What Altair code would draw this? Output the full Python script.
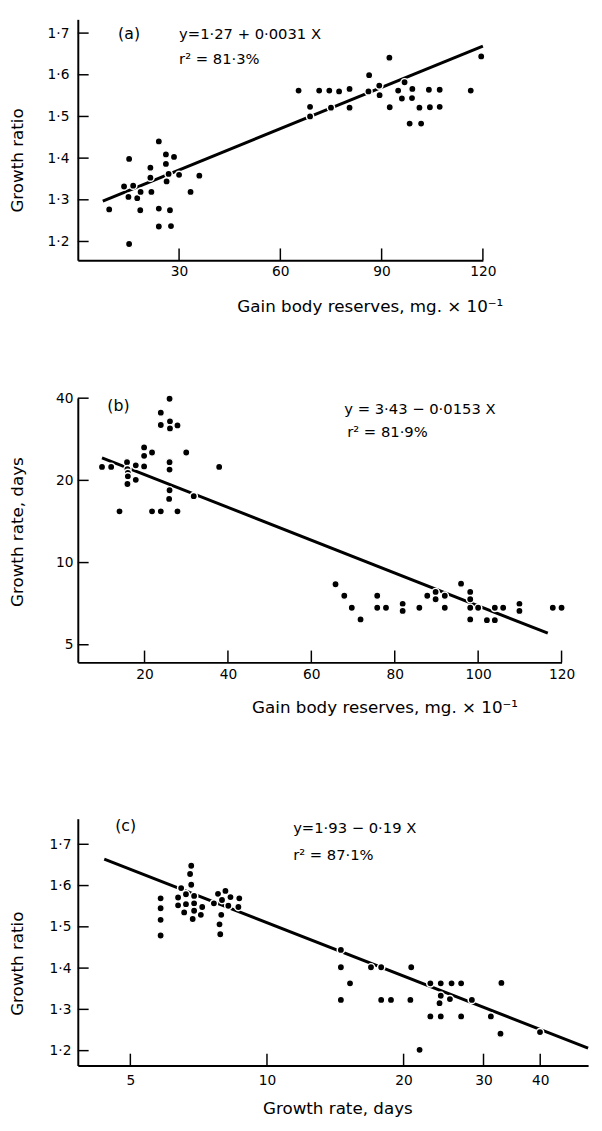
import altair as alt
import pandas as pd

FONT = "DejaVu Sans"

# ---------------- Panel (a) ----------------
a_x = [9.3, 15.2, 13.7, 15.0, 16.4, 17.6, 18.6, 18.5, 15.2, 21.5, 21.5, 21.8,
       24.0, 24.0, 24.0, 26.1, 26.1, 26.9, 26.3, 27.3, 27.6, 28.5, 30.0, 33.4,
       36.0, 65.4, 68.8, 68.8, 71.5, 74.5, 75.0, 77.4, 80.5, 80.5, 86.3, 86.1,
       89.3, 89.4, 92.3, 92.4, 94.9, 96.0, 96.8, 99.0, 99.1, 98.3, 101.7, 101.2,
       104.0, 104.3, 107.2, 107.2, 116.4, 119.5]
a_y = [1.277, 1.398, 1.332, 1.307, 1.334, 1.304, 1.319, 1.275, 1.194, 1.377,
       1.353, 1.319, 1.440, 1.279, 1.236, 1.409, 1.386, 1.362, 1.344, 1.275,
       1.237, 1.403, 1.360, 1.319, 1.358, 1.562, 1.523, 1.500, 1.562, 1.562,
       1.521, 1.560, 1.566, 1.521, 1.599, 1.560, 1.574, 1.551, 1.641, 1.522,
       1.562, 1.543, 1.582, 1.544, 1.566, 1.483, 1.483, 1.521, 1.564, 1.522,
       1.564, 1.523, 1.562, 1.644]
a_fit_x = [7.4, 120.0]
a_fit_y = [1.297, 1.669]
a_xticks = [30, 60, 90, 120]
a_yticks = [1.2, 1.3, 1.4, 1.5, 1.6, 1.7]
a_notes = ["(a)", "y=1·27 + 0·0031 X", "r² = 81·3%"]

# ---------------- Panel (b) ----------------
b_x = [9.8, 12.0, 14.0, 15.8, 15.9, 16.0, 16.0, 15.9, 17.9, 17.9, 19.9, 19.9,
       19.9, 21.8, 21.8, 23.9, 23.9, 23.9, 26.0, 26.1, 26.1, 26.0, 26.0, 26.0,
       25.9, 27.9, 27.9, 30.0, 31.8, 37.9, 65.8, 67.9, 69.7, 71.8, 75.8, 75.8,
       77.9, 81.9, 81.9, 85.9, 87.8, 89.8, 89.8, 92.0, 92.0, 95.9, 98.1, 98.1,
       98.1, 98.1, 100.0, 102.1, 104.0, 104.0, 106.0, 109.9, 109.9, 117.9, 120.0]
b_y = [22.4, 22.4, 15.4, 23.3, 22.0, 21.3, 20.7, 19.4, 22.7, 20.1, 26.4, 24.6,
       22.5, 25.3, 15.4, 35.4, 31.9, 15.4, 39.8, 32.9, 31.0, 23.3, 21.9, 18.4,
       17.1, 31.8, 15.4, 25.3, 17.5, 22.4, 8.33, 7.56, 6.83, 6.19, 7.56, 6.83,
       6.83, 7.06, 6.65, 6.83, 7.56, 7.80, 7.34, 7.56, 6.83, 8.37, 7.80, 7.34,
       6.83, 6.19, 6.83, 6.15, 6.15, 6.83, 6.83, 7.06, 6.65, 6.83, 6.83]
b_fit_x = [9.8, 116.7]
b_fit_y = [24.2, 5.51]
b_xticks = [20, 40, 60, 80, 100, 120]
b_yticks = [5, 10, 20, 40]
b_notes = ["(b)", "y = 3·43 − 0·0153 X", "r² = 81·9%"]

# ---------------- Panel (c) ----------------
c_x = [5.83, 5.83, 5.83, 5.83, 6.47, 6.37, 6.37, 6.63, 6.63, 6.57, 6.81, 6.77,
       6.81, 6.91, 6.91, 6.91, 6.86, 7.20, 7.15, 7.64, 7.80, 7.96, 7.93, 7.86,
       7.89, 8.10, 8.22, 8.31, 8.69, 8.65, 14.55, 14.55, 14.55, 15.24, 16.95,
       17.85, 17.85, 18.76, 20.79, 20.7, 21.69, 22.91, 22.91, 24.15, 24.15,
       24.0, 24.15, 25.51, 25.3, 26.78, 26.78, 28.28, 31.14, 32.85, 32.7, 39.96]
c_y = [1.569, 1.545, 1.517, 1.479, 1.594, 1.571, 1.552, 1.579, 1.555, 1.535,
       1.648, 1.628, 1.602, 1.575, 1.557, 1.539, 1.519, 1.548, 1.529, 1.557,
       1.580, 1.565, 1.529, 1.506, 1.482, 1.587, 1.551, 1.572, 1.569, 1.548,
       1.444, 1.402, 1.323, 1.363, 1.402, 1.402, 1.323, 1.323, 1.402, 1.323,
       1.202, 1.363, 1.283, 1.363, 1.333, 1.315, 1.283, 1.363, 1.325, 1.363,
       1.283, 1.323, 1.283, 1.364, 1.241, 1.245]
c_fit_x = [4.38, 51.0]
c_fit_y = [1.664, 1.206]
c_xticks = [5, 10, 20, 30, 40]
c_yticks = [1.2, 1.3, 1.4, 1.5, 1.6, 1.7]
c_notes = ["(c)", "y=1·93 − 0·19 X", "r² = 87·1%"]

DEC1 = "replace(format(datum.value, '.1f'), '.', '·')"
INT = "format(datum.value, 'd')"


def make_panel(xs, ys, fit_x, fit_y, xticks, yticks, xscale, yscale, w, h,
               xtitle, ytitle, xlab, ylab, xlabpad, ylabpad,
               xtitle_x, xtitle_y, ytitle_y, notes, note_pos):
    xaxis = alt.Axis(values=xticks, ticks=False, tickSize=0, grid=False,
                     domainColor="black", domainWidth=2,
                     labelFont=FONT, labelFontSize=14, labelColor="black",
                     labelPadding=xlabpad, labelExpr=xlab, labelFlush=False,
                     labelOverlap=False,
                     title=xtitle, titleFont=FONT, titleFontSize=17,
                     titleFontWeight="normal", titleColor="black",
                     titleX=xtitle_x, titleY=xtitle_y, titleAlign="center",
                     titleBaseline="top")
    yaxis = alt.Axis(values=yticks, ticks=False, tickSize=0, grid=False,
                     domainColor="black", domainWidth=2,
                     labelFont=FONT, labelFontSize=14, labelColor="black",
                     labelPadding=ylabpad, labelExpr=ylab, labelFlush=False,
                     labelOverlap=False,
                     title=ytitle, titleFont=FONT, titleFontSize=17,
                     titleFontWeight="normal", titleColor="black",
                     titleX=-52, titleY=ytitle_y, titleAngle=270,
                     titleAlign="center", titleBaseline="bottom")
    X = alt.X("x:Q", scale=xscale, axis=xaxis)
    Y = alt.Y("y:Q", scale=yscale, axis=yaxis)

    fit = alt.Chart(pd.DataFrame({"x": fit_x, "y": fit_y})).mark_line(
        color="black", strokeWidth=3).encode(x=X, y=Y)
    xtk = alt.Chart(pd.DataFrame({"x": xticks})).mark_rule(
        color="black", strokeWidth=1.5).encode(
        x=X, y=alt.value(h), y2=alt.value(h - 12))
    ytk = alt.Chart(pd.DataFrame({"y": yticks})).mark_rule(
        color="black", strokeWidth=1.5).encode(
        y=Y, x=alt.value(0), x2=alt.value(11))
    pts = alt.Chart(pd.DataFrame({"x": xs, "y": ys})).mark_circle(
        size=55, fill="black", stroke="white", strokeWidth=1.5,
        opacity=1).encode(x=X, y=Y)
    layers = [fit, xtk, ytk, pts]
    for text, (px, py, fs) in zip(notes, note_pos):
        layers.append(
            alt.Chart(pd.DataFrame({"t": [text]})).mark_text(
                align="left", baseline="middle", font=FONT, fontSize=fs,
                color="black").encode(
                text="t:N", x=alt.value(px), y=alt.value(py)))
    return alt.layer(*layers).properties(width=w, height=h)


XT = "Gain body reserves, mg. × 10⁻¹"

panel_a = make_panel(
    a_x, a_y, a_fit_x, a_fit_y, a_xticks, a_yticks,
    alt.Scale(domain=[0, 120], nice=False, zero=False),
    alt.Scale(domain=[1.155, 1.733], nice=False, zero=False),
    412, 245, XT, "Growth ratio", INT, DEC1, 5, 9, 297, 39, 143,
    a_notes, [(41, 15, 16), (103, 15, 15), (103, 40, 15)])

panel_b = make_panel(
    b_x, b_y, b_fit_x, b_fit_y, b_xticks, b_yticks,
    alt.Scale(domain=[4.0, 120], nice=False, zero=False),
    alt.Scale(type="log", domain=[4.31, 40.1], nice=False),
    492, 269, XT, "Growth rate, days", INT, INT, 5, 5, 312, 38, 136,
    b_notes, [(30, 8, 16), (271, 11, 15), (274, 35, 15)])

panel_c = make_panel(
    c_x, c_y, c_fit_x, c_fit_y, c_xticks, c_yticks,
    alt.Scale(type="log", domain=[3.83, 51], nice=False),
    alt.Scale(domain=[1.164, 1.762], nice=False, zero=False),
    519, 251, "Growth rate, days", "Growth ratio", INT, DEC1, 8, 7, 264, 36, 147,
    c_notes, [(38, 7, 16), (219, 10, 15), (219, 37, 15)])

lower = alt.vconcat(panel_b, panel_c, spacing=159, bounds="flush")
chart = alt.vconcat(panel_a, lower, spacing=140, bounds="flush").properties(
    padding={"left": 1, "top": 2, "right": 0, "bottom": 0},
    background="white",
).configure_view(stroke=None)

chart.save("out.html", embed_options={"renderer": "svg", "actions": False})
